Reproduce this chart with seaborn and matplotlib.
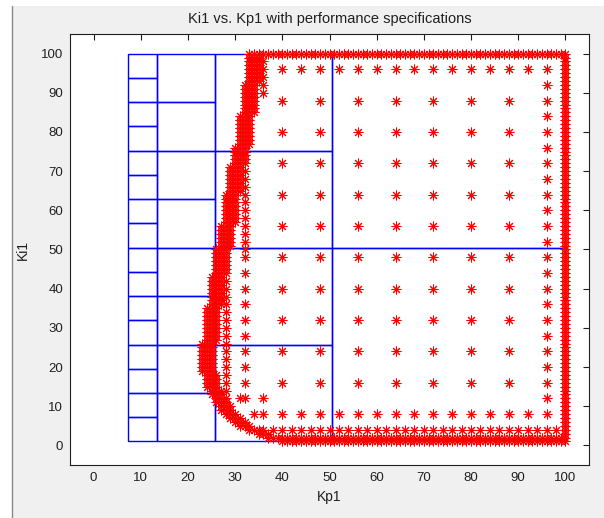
import matplotlib
matplotlib.use("Agg")
import matplotlib.pyplot as plt
import seaborn as sns
import pandas as pd
from matplotlib.patches import Rectangle
from matplotlib.lines import Line2D

# ---- quadtree cells of the Kp1/Ki1 search box ----
kp_splits = [7.1875, 13.375, 25.75, 50.5, 100.0]   # column edges along Kp1
column_rows = [16, 8, 4, 2]                         # Ki1 subdivisions per column
ki_lo, ki_hi = 1.0, 100.0

# ---- stable samples that meet the performance specifications ----
# smallest stable Kp1 found for Ki1 = 1 .. 100
boundary_ki = list(range(1, 101))
boundary_kp = [40, 37, 35, 33, 31, 30, 29, 28, 27, 27,
               26, 26, 25, 25, 24, 24, 24, 24, 23, 23,
               23, 23, 23, 23, 23, 23, 24, 24, 24, 24,
               24, 24, 24, 24, 24, 25, 25, 25, 25, 25,
               25, 25, 25, 26, 26, 26, 26, 26, 26, 26,
               27, 27, 27, 27, 27, 27, 28, 28, 28, 28,
               28, 28, 28, 28, 29, 29, 29, 29, 29, 29,
               29, 30, 30, 30, 30, 30, 31, 31, 31, 31,
               31, 31, 31, 31, 32, 32, 32, 32, 32, 32,
               32, 32, 33, 33, 33, 33, 33, 33, 33, 33]
band_width = 3

# fine sweep along the edges of the box
top_kp = list(range(33, 101))            # Ki1 = 100
right_ki = list(range(1, 101))           # Kp1 = 100
bottom_rows_ki = [1, 2]
row4_kp = list(range(34, 100, 2))        # Ki1 = 4
row8_kp = list(range(36, 97, 4))         # Ki1 = 8
row96_kp = list(range(36, 97, 4))        # Ki1 = 96
col96_ki = list(range(8, 97, 4))         # Kp1 = 96

# coarse interior lattice
coarse_kp = [40, 48, 56, 64, 72, 80, 88]
coarse_ki = [16, 24, 32, 40, 48, 56, 64, 72, 80, 88]

# refinement samples next to the stability boundary
fringe_kp = ([36] * 4 + [32] * 14 + [32] * 10 + [28] * 19 + [36, 36, 31, 34])
fringe_ki = ([90, 92, 94, 98]
             + [50, 52, 54, 56, 58, 60, 62, 64, 66, 68, 70, 72, 74, 76]
             + [12, 16, 20, 24, 28, 32, 36, 40, 44, 48]
             + [10, 12, 14, 16, 18, 20, 22, 24, 26, 28, 30, 32, 34, 36,
                38, 40, 42, 44, 46]
             + [8, 12, 12, 8])

# ---- assemble the sample table ----
pts = []
for ki, kp in zip(boundary_ki, boundary_kp):
    for k in range(band_width):
        pts.append((kp + k, ki))
pts += [(kp, 100) for kp in top_kp]
pts += [(100, ki) for ki in right_ki]
for ki in bottom_rows_ki:
    start = boundary_kp[ki - 1]
    pts += [(kp, ki) for kp in range(start, 101)]
pts += [(kp, 4) for kp in row4_kp]
pts += [(kp, 8) for kp in row8_kp]
pts += [(kp, 96) for kp in row96_kp]
pts += [(96, ki) for ki in col96_ki]
pts += [(kp, ki) for kp in coarse_kp for ki in coarse_ki]
pts += list(zip(fringe_kp, fringe_ki))
df = pd.DataFrame(pts, columns=["Kp1", "Ki1"]).drop_duplicates()

# ---- figure ----
sns.set_style("white")
plt.rcParams["font.family"] = ["Liberation Sans", "DejaVu Sans"]

fig = plt.figure(figsize=(6.04, 5.18), dpi=100, facecolor="#f0f0f0")
ax = fig.add_axes([70 / 604, 1 - 465 / 518, 519 / 604, 431 / 518])
ax.set_facecolor("white")

# quadtree rectangles
for i, nrows in enumerate(column_rows):
    x0, x1 = kp_splits[i], kp_splits[i + 1]
    h = (ki_hi - ki_lo) / nrows
    for r in range(nrows):
        ax.add_patch(Rectangle((x0, ki_lo + r * h), x1 - x0, h, fill=False,
                               edgecolor="#0000ff", linewidth=1.0, zorder=2))

sns.scatterplot(data=df, x="Kp1", y="Ki1", marker=(8, 2, 0), color="#ff0000",
                s=42, linewidth=0.75, ax=ax, zorder=3, legend=False)

ax.set_xlim(-5, 105)
ax.set_ylim(-5, 105)
ax.set_xticks(range(0, 101, 10))
ax.set_yticks(range(0, 101, 10))
ax.tick_params(direction="in", top=True, right=True, length=4, width=0.8,
               labelsize=9.5, colors="#202020", labelcolor="#202020", pad=5)
for sp in ax.spines.values():
    sp.set_color("#202020")
    sp.set_linewidth(0.8)
ax.set_xlabel("Kp1", fontsize=10, color="#202020", labelpad=4)
ax.set_ylabel("Ki1", fontsize=10, color="#202020", labelpad=8)
ax.set_title("Ki1 vs. Kp1 with performance specifications", fontsize=10.5,
             color="#202020", pad=8)

# window frame around the figure
fig.patches.append(Rectangle((0, 0), 12 / 604, 1, transform=fig.transFigure,
                             facecolor="white", edgecolor="none", zorder=0))
fig.patches.append(Rectangle((0, 1 - 6 / 518), 1, 6 / 518, transform=fig.transFigure,
                             facecolor="white", edgecolor="none", zorder=0))
fig.lines.append(Line2D([12 / 604, 12 / 604], [0, 1 - 6 / 518], transform=fig.transFigure,
                        color="#8a8a8a", linewidth=1.0))

fig.savefig("out.png", dpi=100, facecolor=fig.get_facecolor())
